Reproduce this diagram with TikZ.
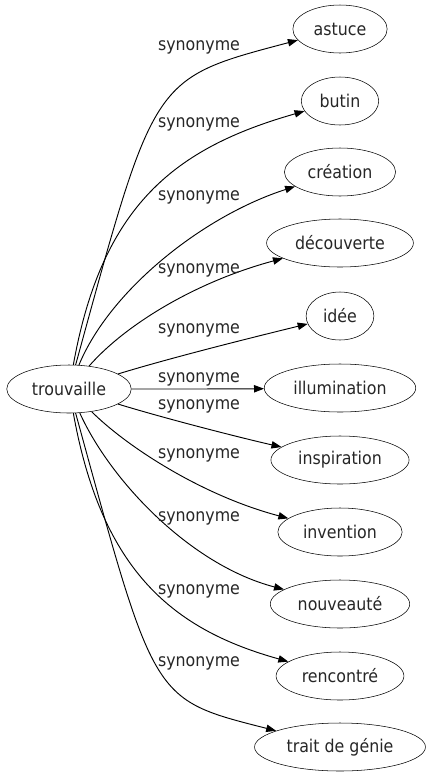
\documentclass[tikz,border=0pt]{standalone}
\usepackage{fontspec}
\setmainfont{DejaVu Sans Condensed}
\usetikzlibrary{shapes.geometric,arrows.meta}

\begin{document}
\begin{tikzpicture}[x=0.75pt, y=-0.75pt,
    every node/.style={font=\fontsize{13.2}{15}\selectfont, text=black!85},
    word/.style={draw, ellipse, inner xsep=5.25pt, inner ysep=0pt, minimum height=36pt},
    syn/.style={inner sep=0pt},
    rel/.style={line width=0.7pt, -{Triangle[length=7.5pt, width=5.5pt]}}]
    \useasboundingbox (0,0) rectangle (429,779);

    \node[word] (trouvaille) at (69,389) {trouvaille};
    \foreach \n/\y/\w in {astuce/29/astuce, butin/101/butin, creation/172/création,
        decouverte/243/découverte, idee/316/idée, illumination/388/illumination,
        inspiration/460/inspiration, invention/532/invention, nouveaute/604/nouveauté,
        rencontre/676/rencontré, trait/747/trait de génie}{%
        \node[word] (\n) at (340,\y) {\w};
    }

    \foreach \n/\ax/\ay/\bx/\by in {astuce/155/76/151/79, butin/102/205/175/148,
        creation/110/290/203/216, decouverte/125/325/195/282, idee/170/358/250/338,
        illumination/170/389/230/389, inspiration/170/420/250/440,
        invention/125/445/200/495, nouveaute/110/480/190/565,
        rencontre/102/573/175/630, trait/155/702/151/699}{%
        \draw[rel] (trouvaille) .. controls (\ax,\ay) and (\bx,\by) .. (\n);
    }

    \foreach \y [count=\i] in {47, 124, 197, 270, 330, 379, 406, 455, 518, 591, 663}{%
        \node[syn] (syn\i) at (199,\y) {synonyme};
    }
\end{tikzpicture}
\end{document}
